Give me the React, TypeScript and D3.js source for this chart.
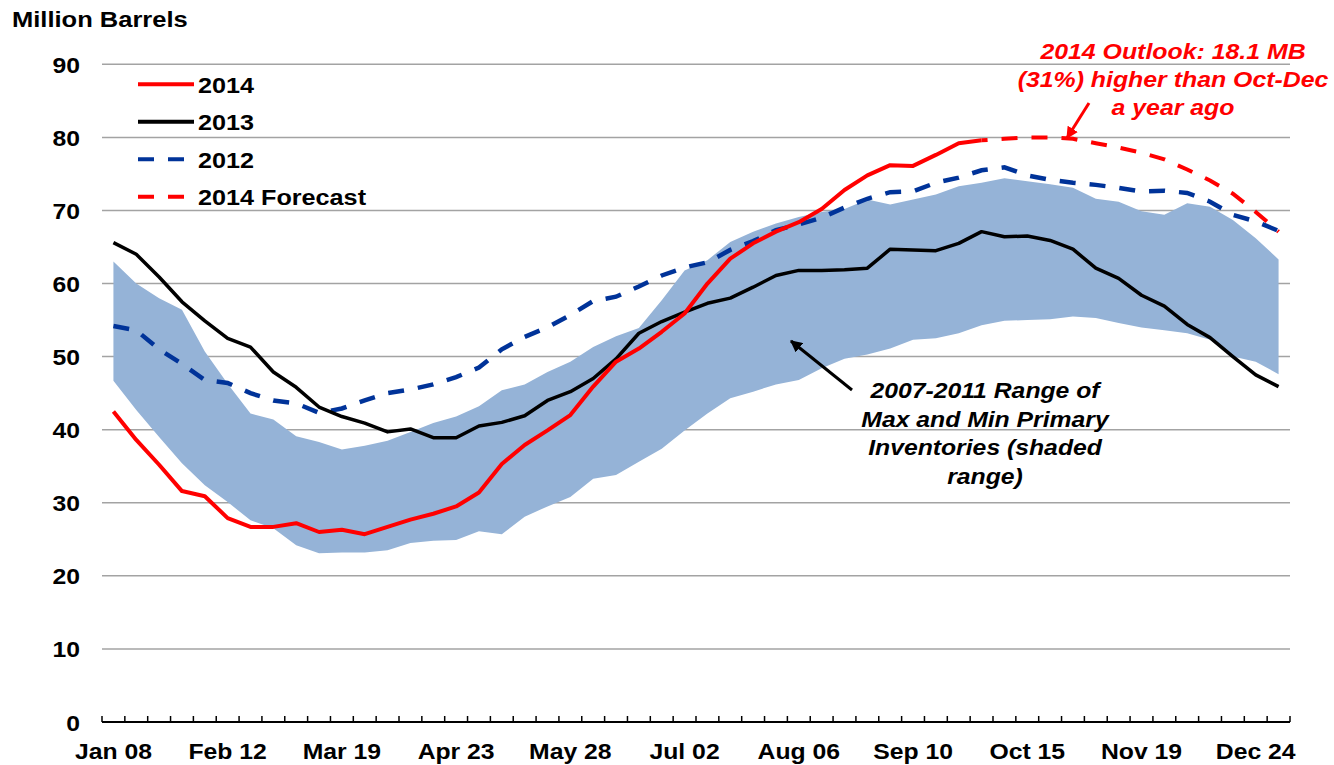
import React from "react";
import * as d3 from "d3";

const tickLabels = ["Jan 08", "Feb 12", "Mar 19", "Apr 23", "May 28", "Jul 02", "Aug 06", "Sep 10", "Oct 15", "Nov 19", "Dec 24"];
const yTicks = [0, 10, 20, 30, 40, 50, 60, 70, 80, 90];
const weekCount = 52;

const bandMax = [63.0, 60.0, 58.0, 56.4, 50.7, 46.3, 42.2, 41.4, 39.1, 38.3, 37.3, 37.8, 38.5, 39.7, 40.9, 41.8, 43.2, 45.4, 46.2, 47.9, 49.3, 51.3, 52.8, 53.9, 57.7, 61.8, 63.2, 65.7, 67.1, 68.2, 69.1, 69.8, 70.2, 71.5, 70.8, 71.5, 72.2, 73.3, 73.8, 74.4, 74.0, 73.6, 73.1, 71.6, 71.2, 69.9, 69.4, 71.0, 70.5, 68.7, 66.2, 63.3];
const bandMin = [46.7, 42.7, 39.0, 35.4, 32.4, 30.1, 27.6, 26.5, 24.2, 23.1, 23.2, 23.2, 23.5, 24.5, 24.8, 24.9, 26.1, 25.7, 28.1, 29.5, 30.8, 33.3, 33.8, 35.6, 37.4, 39.9, 42.2, 44.3, 45.2, 46.2, 46.8, 48.4, 49.7, 50.3, 51.1, 52.3, 52.5, 53.2, 54.3, 54.9, 55.0, 55.1, 55.5, 55.3, 54.6, 54.0, 53.6, 53.2, 52.3, 50.0, 49.3, 47.6];
const series2012 = [54.2, 53.6, 51.0, 49.0, 46.8, 46.4, 45.0, 44.0, 43.6, 42.3, 42.9, 44.0, 45.0, 45.5, 46.2, 47.2, 48.5, 51.0, 52.7, 54.0, 55.7, 57.6, 58.2, 59.6, 61.1, 62.2, 62.9, 64.6, 65.8, 67.3, 68.1, 69.0, 70.4, 71.6, 72.5, 72.6, 73.8, 74.5, 75.5, 75.9, 74.8, 74.2, 73.8, 73.5, 73.1, 72.6, 72.7, 72.4, 71.2, 69.4, 68.5, 67.2];
const series2013 = [65.6, 64.0, 60.9, 57.5, 54.9, 52.5, 51.3, 47.9, 45.8, 43.1, 41.8, 40.9, 39.7, 40.1, 38.9, 38.9, 40.5, 41.0, 41.9, 44.0, 45.2, 47.0, 49.7, 53.2, 54.8, 56.1, 57.3, 58.0, 59.5, 61.1, 61.8, 61.8, 61.9, 62.1, 64.7, 64.6, 64.5, 65.5, 67.1, 66.4, 66.5, 65.9, 64.7, 62.1, 60.7, 58.4, 56.9, 54.4, 52.6, 50.0, 47.5, 45.9];
const series2014 = [42.5, 38.6, 35.2, 31.6, 30.9, 27.9, 26.7, 26.7, 27.2, 26.0, 26.3, 25.7, 26.7, 27.7, 28.5, 29.5, 31.4, 35.3, 37.9, 39.9, 42.0, 45.9, 49.3, 51.1, 53.4, 55.9, 60.0, 63.4, 65.5, 67.1, 68.4, 70.2, 72.8, 74.8, 76.2, 76.1, 77.6, 79.2, 79.6];
const forecastStart = 38;
const forecast2014 = [79.6, 79.8, 80.0, 80.0, 79.8, 79.2, 78.6, 77.9, 77.0, 75.6, 74.1, 72.3, 69.8, 67.1];

const legendItems = [
  { label: "2014", color: "#ff0000", dash: null },
  { label: "2013", color: "#000000", dash: null },
  { label: "2012", color: "#003399", dash: "16,14" },
  { label: "2014 Forecast", color: "#ff0000", dash: "16,14" },
];
const outlookLines = ["2014 Outlook: 18.1 MB", "(31%) higher than Oct-Dec", "a year ago"];
const rangeLines = ["2007-2011 Range of", "Max and Min Primary", "Inventories (shaded", "range)"];

const FONT = "'Liberation Sans', Arial, Helvetica, sans-serif";

function T({ x, y, anchor = "start", size = 22, sx = 1.1, italic = false, fill = "#000", children }: any) {
  return (
    <text
      transform={`translate(${x},${y}) scale(${sx},1)`}
      textAnchor={anchor}
      fontFamily={FONT}
      fontWeight="bold"
      fontStyle={italic ? "italic" : "normal"}
      fontSize={size}
      fill={fill}
    >
      {children}
    </text>
  );
}

export default function App() {
  const W = 1334, H = 765;
  const xs = d3.scaleLinear().domain([0, weekCount]).range([102, 1290]);
  const cx = (i: number) => xs(i + 0.5);
  const ys = d3.scaleLinear().domain([0, 90]).range([722, 64.3]);

  const area = d3.area<number>()
    .x((_, i) => cx(i))
    .y0((_, i) => ys(bandMin[i]))
    .y1((d) => ys(d));
  const line = d3.line<number>().x((_, i) => cx(i)).y((d) => ys(d));
  const lineF = d3.line<number>().x((_, i) => cx(i + forecastStart)).y((d) => ys(d));

  return (
    <svg width={W} height={H} style={{ position: "absolute", left: 0, top: 0, background: "#fff" }}>
      <defs>
        <marker id="ahB" viewBox="0 0 10 10" refX="9" refY="5" markerWidth="4" markerHeight="4" orient="auto" markerUnits="strokeWidth">
          <path d="M0,0 L10,5 L0,10 z" fill="#000" />
        </marker>
        <marker id="ahR" viewBox="0 0 10 10" refX="9" refY="5" markerWidth="4" markerHeight="4" orient="auto" markerUnits="strokeWidth">
          <path d="M0,0 L10,5 L0,10 z" fill="#ff0000" />
        </marker>
      </defs>
      <rect width={W} height={H} fill="#fff" />
      {yTicks.filter((t) => t > 0).map((t) => (
        <line key={t} x1={102} x2={1290} y1={ys(t)} y2={ys(t)} stroke="#a3a3a3" strokeWidth={1.5} />
      ))}
      <path d={area(bandMax) || ""} fill="#95b3d7" stroke="none" />
      <path d={line(series2012) || ""} fill="none" stroke="#003399" strokeWidth={4.5} strokeDasharray="16,14" />
      <path d={line(series2013) || ""} fill="none" stroke="#000" strokeWidth={3.5} strokeLinejoin="round" />
      <path d={line(series2014) || ""} fill="none" stroke="#ff0000" strokeWidth={4} strokeLinejoin="round" />
      <path d={lineF(forecast2014) || ""} fill="none" stroke="#ff0000" strokeWidth={4} strokeDasharray="16,14" strokeDashoffset={10} />
      <line x1={102} x2={1290} y1={722} y2={722} stroke="#000" strokeWidth={2} />
      {d3.range(weekCount + 1).map((k) => (
        <line key={k} x1={xs(k)} x2={xs(k)} y1={722} y2={716} stroke="#000" strokeWidth={1.5} />
      ))}
      {tickLabels.map((lab, j) => (
        <T key={lab} x={cx(j * 5)} y={759} anchor="middle" size={22.5}>{lab}</T>
      ))}
      {yTicks.map((t) => (
        <T key={t} x={80} y={ys(t) + 8.5} anchor="end" size={22.5}>{String(t)}</T>
      ))}
      <T x={12} y={26.5} size={22} sx={1.16}>Million Barrels</T>
      {legendItems.map((it, k) => {
        const yy = 84.3 + k * 37.5;
        return (
          <g key={it.label}>
            <line x1={138} x2={194} y1={yy} y2={yy} stroke={it.color} strokeWidth={4} strokeDasharray={it.dash || undefined} />
            <T x={198} y={yy + 8.3} size={22.5} sx={1.12}>{it.label}</T>
          </g>
        );
      })}
      {outlookLines.map((s, k) => (
        <T key={s} x={1173} y={59 + k * 28} anchor="middle" italic fill="#ff0000" size={22} sx={1.13}>{s}</T>
      ))}
      <line x1={1089} y1={103} x2={1067} y2={138} stroke="#ff0000" strokeWidth={3} markerEnd="url(#ahR)" />
      {rangeLines.map((s, k) => (
        <T key={s} x={985} y={398 + k * 28.5} anchor="middle" italic size={22.5}>{s}</T>
      ))}
      <line x1={852} y1={390} x2={791} y2={341} stroke="#000" strokeWidth={3} markerEnd="url(#ahB)" />
    </svg>
  );
}
